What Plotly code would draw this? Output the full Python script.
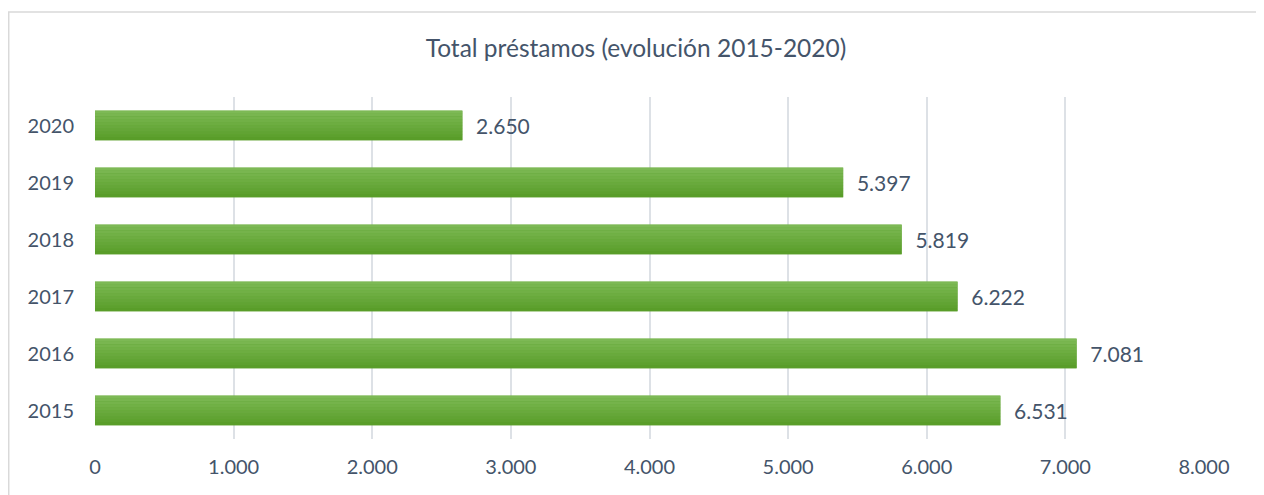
import plotly.graph_objects as go

# Data
years = ["2015", "2016", "2017", "2018", "2019", "2020"]
loans = [6531, 7081, 6222, 5819, 5397, 2650]
x_ticks = [0, 1000, 2000, 3000, 4000, 5000, 6000, 7000, 8000]

TEXT = "#44546a"
FONT = "Lato, 'Open Sans', sans-serif"
BAR_W = 0.52


def mix(c1, c2, t):
    a = [int(c1[i:i + 2], 16) for i in (1, 3, 5)]
    b = [int(c2[i:i + 2], 16) for i in (1, 3, 5)]
    return "#" + "".join(f"{round(a[k] + (b[k] - a[k]) * t):02x}" for k in range(3))


fig = go.Figure()

# base bar carries the labels
fig.add_trace(go.Bar(
    y=years, x=loans, orientation="h", width=BAR_W,
    marker=dict(color="#5b9f2b", line_width=0),
    texttemplate="  %{x:,.0f}", textposition="outside",
    textfont=dict(color=TEXT, size=21, family=FONT),
    cliponaxis=False, hoverinfo="skip", showlegend=False,
))

# fake vertical gradient with thin overlaid strips
n = 10
strip = BAR_W / n
for i in range(n):
    fig.add_trace(go.Bar(
        y=years, x=loans, orientation="h",
        width=strip + 0.004, offset=-BAR_W / 2 + i * strip,
        marker=dict(color=mix("#599d29", "#7db955", i / (n - 1)), line_width=0),
        hoverinfo="skip", showlegend=False,
    ))

# page has an 8px body margin, so the figure is 8px smaller
fig.update_layout(
    width=1256, height=487,
    barmode="overlay",
    separators=",.",
    paper_bgcolor="white", plot_bgcolor="white",
    margin=dict(l=87, r=60, t=89, b=56),
    font=dict(family=FONT, color=TEXT, size=20),
    title=dict(text="Total préstamos (evolución 2015-2020)", x=0.5, xref="container",
               xanchor="center", y=1 - 40 / 487, yanchor="middle",
               font=dict(size=24.5, color=TEXT, family=FONT)),
    xaxis=dict(range=[0, 8000], tickvals=x_ticks, tickformat=",", showgrid=True,
               gridcolor="#dde1e6", gridwidth=1.5, zeroline=False, showline=False,
               ticks="", ticklabelstandoff=14, layer="below traces"),
    yaxis=dict(showgrid=False, zeroline=False, showline=False, ticks="",
               ticklabelstandoff=20, range=[-0.5, 5.5]),
    shapes=[dict(type="rect", xref="paper", yref="paper",
                 x0=-0.0778, x1=1.0505, y0=-0.2, y1=1.2485,
                 line=dict(color="#d9d9d9", width=1.5), layer="below")],
)

fig.write_html("out.html")
